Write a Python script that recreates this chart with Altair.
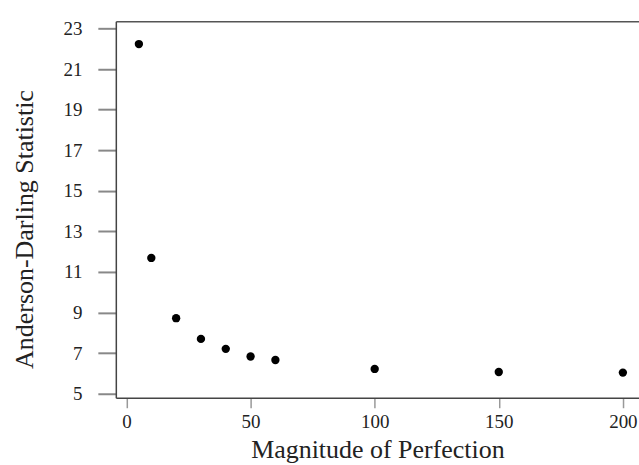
import altair as alt
import pandas as pd

magnitude = [5, 10, 20, 30, 40, 50, 60, 100, 150, 200]
ad_stat = [22.23, 11.69, 8.72, 7.70, 7.21, 6.83, 6.66, 6.22, 6.07, 6.04]

df = pd.DataFrame({"Magnitude": magnitude, "AD": ad_stat})

FONT = "Liberation Serif"
xscale = alt.Scale(domain=[-4.3, 206.5], nice=False, zero=False)
yscale = alt.Scale(domain=[4.8, 23.35], nice=False, zero=False)

points = alt.Chart(df).mark_point(filled=True, color="black", opacity=1, size=70).encode(
    x=alt.X("Magnitude:Q", scale=xscale,
            axis=alt.Axis(values=[0, 50, 100, 150, 200], title="Magnitude of Perfection",
                          grid=False, tickSize=10, tickColor="#999", tickWidth=1.5,
                          domainColor="#444", domainWidth=1.5,
                          labelFont=FONT, labelFontSize=19, labelColor="#222", labelPadding=5,
                          titleFont=FONT, titleFontSize=26, titleFontWeight="normal",
                          titleColor="#222", titlePadding=5)),
    y=alt.Y("AD:Q", scale=yscale,
            axis=alt.Axis(values=[5, 7, 9, 11, 13, 15, 17, 19, 21, 23], title="Anderson-Darling Statistic",
                          grid=False, tickSize=18, tickColor="#888", tickWidth=2,
                          domainColor="#444", domainWidth=1.5,
                          labelFont=FONT, labelFontSize=19, labelColor="#222", labelPadding=16,
                          titleFont=FONT, titleFontSize=26, titleFontWeight="normal",
                          titleColor="#222", titleX=-83, titleY=208,
                          titleBaseline="alphabetic", titleAngle=270)),
)

top_frame = alt.Chart(df).mark_point(opacity=0).encode(
    x=alt.X("Magnitude:Q", scale=xscale,
            axis=alt.Axis(orient="top", labels=False, ticks=False, grid=False, title=None,
                          domainColor="#555", domainWidth=1.5)),
)

chart = alt.layer(points, top_frame).resolve_axis(x="independent").properties(
    width=524, height=377,
    background="white",
    autosize=alt.AutoSizeParams(type="none"),
    padding={"left": 116, "top": 21, "right": 0, "bottom": 67},
).configure_view(
    strokeWidth=0
)

chart.save("out.html", embed_options={"renderer": "svg", "actions": False})
